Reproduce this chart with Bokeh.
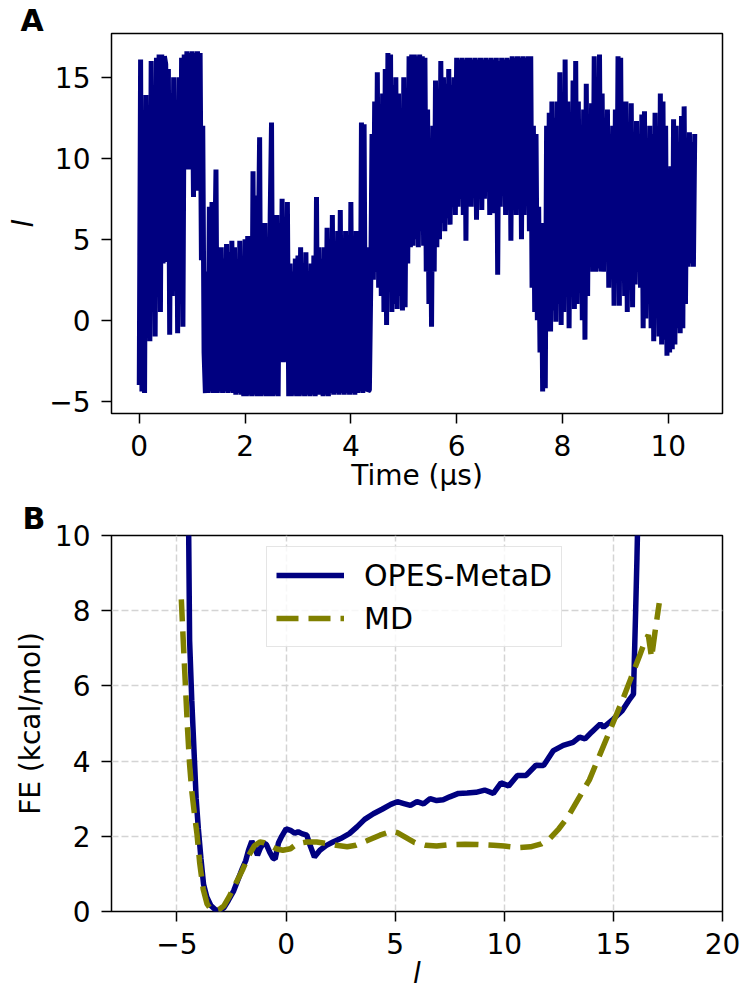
from bokeh.plotting import figure
from bokeh.models import Range1d, FixedTicker, Legend, LegendItem
from bokeh.layouts import column
from bokeh.embed import file_html
from bokeh.resources import INLINE

FONT = "DejaVu Sans"

# ---------------- Panel A data: l along the trajectory ----------------
SAMPLE_STEP_US = 0.025
l_trace = [
    -4.0, 16.1, -4.4, 12.5, -4.5, 13.9, -0.5, 12.4, -1.3, 16.0, 2.0, 14.5, -1.0, 16.2, 3.0, 16.4, 0.5, 16.4, 3.5, 16.3,
    15.8, 3.6, 15.5, -0.9, 14.0, 1.5, 15.0, 3.0, 13.0, -0.8, 15.0, 2.0, 16.2, -0.4, 16.4, 9.5, 16.6, 9.3, 16.5, 10.5,
    16.6, 7.6, 16.5, 8.0, 16.6, 10.0, 16.5, 3.7, 12.0, -2.0, -4.5, 3.0, -4.5, 7.0, -4.4, 7.3, -4.5, 3.5, 9.3, -4.5,
    4.0, -4.4, 4.5, -4.5, 3.8, -4.4, 4.7, -4.5, 4.2, -4.4, 4.9, -4.5, 4.5, -4.6, 3.5, -4.5, 4.9, -4.6, 2.0, -4.7,
    5.0, -4.7, 5.2, -4.6, 5.0, -4.7, 9.2, -4.6, 7.7, -4.7, 4.5, 11.3, -4.7, 5.0, -4.6, 6.0, -4.7, 4.0, -4.7, 6.5,
    12.2, -4.7, 6.2, -4.6, 6.5, -4.7, 6.0, -2.5, 7.5, -2.6, 4.0, -2.5, 7.3, -4.7, 3.5, -4.7, 3.0, -4.6, 3.8, -4.7,
    4.0, -4.7, 4.5, -4.6, 3.5, -4.7, 4.2, -4.6, 3.0, -4.7, 3.5, -4.6, 4.0, -4.7, 7.6, -4.6, 4.5, -4.6, 3.8, -4.7,
    4.5, -4.6, 5.7, -4.7, 4.0, -4.5, 6.5, -4.6, 4.8, -4.5, 5.5, -4.6, 6.8, -4.5, 4.5, -4.6, 5.5, -4.5, 4.8, -4.6,
    7.3, -4.5, 5.0, -4.6, 5.5, -4.5, 4.0, -4.4, 12.2, -4.5, 12.1, -4.4, 4.5, -4.4, -4.3, 2.0, 11.5, 2.5, 13.5, 3.0,
    15.3, 2.0, 12.5, 1.5, 14.0, 0.5, 15.5, -0.3, 16.5, 1.8, 16.4, 0.5, 14.5, 1.0, 15.0, 0.7, 14.0, 1.5, 13.0, 0.6,
    15.0, 0.8, 12.0, 3.5, 16.3, 4.5, 16.4, 4.6, 16.4, 5.0, 16.3, 4.5, 16.4, 5.5, 16.3, 4.6, 16.2, 3.0, 13.0, 1.0,
    10.0, -0.4, 12.0, 3.0, 14.8, 4.5, 13.0, 5.0, 16.0, 6.0, 15.0, 5.5, 14.6, 6.3, 15.5, 5.9, 14.5, 7.0, 15.0, 6.5,
    16.2, 7.0, 16.1, 7.5, 16.2, 6.5, 16.1, 4.9, 16.2, 7.5, 16.2, 7.0, 16.1, 8.0, 16.2, 6.2, 16.1, 7.5, 16.2, 6.8,
    16.1, 7.5, 16.2, 8.0, 16.1, 6.5, 16.2, 6.6, 16.1, 7.5, 16.2, 2.8, 16.0, 7.0, 16.2, 8.5, 16.1, 6.5, 16.2, 7.5,
    16.1, 4.9, 16.3, 7.6, 16.2, 6.5, 16.3, 7.0, 16.2, 5.0, 16.3, 6.5, 16.2, 7.6, 16.3, 5.5, 16.3, 2.0, 12.0, 0.5,
    11.5, 0.0, 7.0, -2.0, 6.0, -4.4, 5.0, -4.2, 12.0, 0.5, 12.8, -0.7, 13.5, 0.6, 12.5, -0.1, 13.5, 1.0, 15.3, -0.3,
    13.0, 0.5, 16.1, 1.5, 13.5, -0.5, 12.5, 2.0, 14.8, 0.7, 16.0, 1.0, 13.5, 2.5, 12.0, 0.0, 13.0, -1.2, 14.6, 1.5,
    12.0, 3.5, 13.4, 3.0, 16.3, 3.0, 12.5, 3.2, 16.4, 3.0, 14.0, 3.0, 12.5, 5.0, 13.0, 2.0, 11.5, 3.5, 12.0, 0.9,
    13.0, 3.0, 16.3, 0.9, 16.2, 3.0, 12.0, 1.5, 13.5, 0.5, 12.0, 2.5, 13.4, 0.8, 11.0, 2.2, 12.3, 3.0, 11.5, 2.0,
    12.7, -0.5, 12.9, 0.1, 11.0, 1.5, 12.0, -0.5, 11.5, -1.3, 12.8, 0.5, 10.0, -1.0, 14.0, -1.5, 13.5, -1.2, 12.0, -2.2,
    8.3, -2.0, 9.5, -1.8, 12.4, -1.5, 12.0, -0.5, 10.0, -0.8, 12.6, -0.5, 13.2, 1.0, 10.5, 3.3, 11.6, 3.5, 11.0, 3.3, 11.5,
]
time_us = [round(i * SAMPLE_STEP_US, 4) for i in range(len(l_trace))]

# ---------------- Panel B data: free energy profiles ----------------
opes_l = [-4.47, -4.42, -4.32, -4.22, -4.12, -4.02, -3.9, -3.78, -3.63, -3.45, -3.25, -3.05, -2.85, -2.64,
          -2.4, -2.2, -2.0, -1.85, -1.72, -1.57, -1.42, -1.31, -1.19, -1.04, -0.9, -0.75, -0.6, -0.5, -0.35,
          -0.2, 0.0, 0.2, 0.4, 0.55, 0.72, 0.95, 1.1, 1.3, 1.55, 1.85, 2.15, 2.5, 2.9, 3.25, 3.6, 4.0, 4.4,
          4.8, 5.1, 5.4, 5.7, 6.0, 6.3, 6.6, 6.9, 7.2, 7.5, 7.9, 8.3, 8.7, 9.1, 9.5, 9.85, 10.2, 10.6, 11.0,
          11.45, 11.8, 12.25, 12.7, 13.15, 13.45, 13.7, 14.0, 14.4, 14.55, 15.0, 15.4, 15.75, 15.92, 15.97,
          16.02, 16.08, 16.12]
opes_fe = [10.5, 7.2, 5.6, 4.3, 3.0, 2.2, 1.4, 0.72, 0.38, 0.16, 0.05, 0.02, 0.1, 0.3,
           0.55, 0.85, 1.15, 1.35, 1.63, 1.87, 1.67, 1.5, 1.67, 1.82, 1.78, 1.58, 1.42, 1.40, 1.82,
           2.0, 2.2, 2.16, 2.08, 2.12, 2.07, 2.03, 1.76, 1.45, 1.63, 1.76, 1.85, 1.94, 2.07, 2.25, 2.45, 2.6, 2.72,
           2.85, 2.92, 2.87, 2.82, 2.92, 2.86, 3.0, 2.95, 2.97, 3.05, 3.14, 3.15, 3.17, 3.23, 3.14, 3.42, 3.34, 3.62, 3.62,
           3.89, 3.88, 4.28, 4.42, 4.5, 4.64, 4.59, 4.77, 4.99, 4.9, 5.12, 5.34, 5.65, 5.78, 6.9,
           8.0, 9.4, 10.5]

md_l = [-4.8, -4.72, -4.62, -4.52, -4.42, -4.32, -4.2, -4.08, -3.96, -3.8, -3.62, -3.45, -3.25, -3.05,
        -2.85, -2.6, -2.3, -2.0, -1.7, -1.45, -1.2, -1.0, -0.75, -0.45, -0.15, 0.2, 0.5, 0.95, 1.4, 1.85,
        2.3, 2.8, 3.2, 3.7, 4.3, 4.85, 5.1, 5.4, 5.9, 6.4, 6.9, 7.5, 8.2, 8.8, 9.5, 10.0, 10.6, 11.2, 11.7,
        12.1, 12.5, 12.9, 13.4, 13.9, 14.4, 14.9, 15.4, 15.8, 16.2, 16.45, 16.6, 16.75, 16.9, 17.1]
md_fe = [8.3, 7.3, 6.1, 4.9, 3.9, 3.2, 2.6, 2.05, 1.3, 0.6, 0.2, 0.06, 0.03, 0.06,
         0.15, 0.4, 0.75, 1.1, 1.5, 1.75, 1.85, 1.83, 1.76, 1.67, 1.63, 1.67, 1.8, 1.85, 1.85, 1.81,
         1.76, 1.72, 1.76, 1.88, 2.03, 2.14, 2.1, 2.0, 1.83, 1.76, 1.74, 1.78, 1.79, 1.78, 1.76, 1.74, 1.7, 1.72, 1.8,
         1.95, 2.2, 2.5, 3.0, 3.5, 4.2, 4.9, 5.6, 6.2, 6.8, 7.2, 7.35, 6.75, 7.4, 8.2]

a_xticks = [0, 2, 4, 6, 8, 10]
a_yticks = [-5, 0, 5, 10, 15]
b_xticks = [-5, 0, 5, 10, 15, 20]
b_yticks = [0, 2, 4, 6, 8, 10]
legend_labels = ["OPES-MetaD", "MD"]
panel_tags = ["A", "B"]

NAVY = "#000080"
OLIVE = "#808000"


def fmt(v):
    return str(v).replace("-", "\u2212")


def style(p, xticks, yticks, xlabel, ylabel, x_italic, y_italic, ylab_standoff):
    p.outline_line_color = "black"
    p.outline_line_width = 1.5
    p.background_fill_color = "white"
    p.border_fill_color = "white"
    for ax, ticks, lab, ital in ((p.xaxis[0], xticks, xlabel, x_italic), (p.yaxis[0], yticks, ylabel, y_italic)):
        ax.ticker = FixedTicker(ticks=ticks)
        ax.major_label_overrides = {t: fmt(t) for t in ticks}
        ax.axis_label = lab
        ax.axis_label_text_font = FONT
        ax.axis_label_text_font_size = "28px"
        ax.axis_label_text_font_style = "italic" if ital else "normal"
        ax.axis_label_text_color = "black"
        ax.major_label_text_font = FONT
        ax.major_label_text_font_size = "28px"
        ax.major_label_text_color = "black"
        ax.axis_line_color = None
        ax.major_tick_line_color = "black"
        ax.major_tick_line_width = 1.5
        ax.major_tick_out = 10
        ax.major_tick_in = 0
        ax.minor_tick_line_color = None
        ax.major_label_standoff = 11
    p.xaxis[0].axis_label_standoff = 0
    p.yaxis[0].axis_label_standoff = ylab_standoff


def tag(p, text, offset, standoff):
    p.title.text = text
    p.title.align = "left"
    p.title.offset = offset
    p.title.standoff = standoff
    p.title.text_font = FONT
    p.title.text_font_size = "30px"
    p.title.text_font_style = "bold"
    p.title.text_color = "black"


# ---------------- Panel A ----------------
pA = figure(width=740, height=498, output_backend="svg", toolbar_location=None,
            x_range=Range1d(-0.525, 11.025), y_range=Range1d(-5.76, 17.7),
            min_border_left=111, min_border_right=18, min_border_top=33, min_border_bottom=85)
pA.line(time_us, l_trace, line_color=NAVY, line_width=5)
style(pA, a_xticks, a_yticks, "Time (\u03bcs)", "l", False, True, 6)
pA.xgrid.visible = False
pA.ygrid.visible = False
tag(pA, panel_tags[0], -91, -9)

# ---------------- Panel B ----------------
pB = figure(width=740, height=498, output_backend="svg", toolbar_location=None,
            x_range=Range1d(-8, 20), y_range=Range1d(0, 10),
            min_border_left=111, min_border_right=18, min_border_top=35, min_border_bottom=85)
style(pB, b_xticks, b_yticks, "l", "FE (kcal/mol)", True, False, 5)
for g, ticks in ((pB.xgrid[0], b_xticks), (pB.ygrid[0], b_yticks)):
    g.ticker = FixedTicker(ticks=ticks)
    g.grid_line_color = "#d4d4d4"
    g.grid_line_width = 1.5
    g.grid_line_dash = "7 3"

r_opes = pB.line(opes_l, opes_fe, line_color=NAVY, line_width=5.5)
r_md = pB.line(md_l, md_fe, line_color=OLIVE, line_width=5.5, line_dash="22 10")

legend = Legend(items=[LegendItem(label=legend_labels[0], renderers=[r_opes]),
                       LegendItem(label=legend_labels[1], renderers=[r_md])],
                location=(155, 264), orientation="vertical",
                label_text_font=FONT, label_text_font_size="30px", label_text_color="black",
                glyph_width=68, glyph_height=38, label_height=38, label_standoff=20,
                spacing=5, padding=9, margin=0,
                border_line_color="#cccccc", border_line_width=1.5,
                background_fill_color="white", background_fill_alpha=0.8)
pB.add_layout(legend)
tag(pB, panel_tags[1], -89, 0)

layout = column(pA, pB)
open("out.html", "w").write(file_html(layout, INLINE, title="OPES-MetaD"))
